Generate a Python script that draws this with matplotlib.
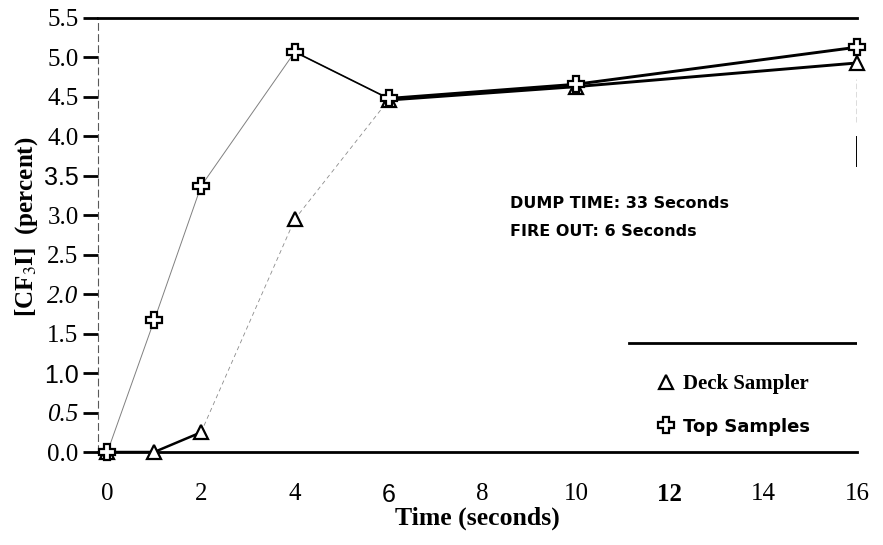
import matplotlib.pyplot as plt
import numpy as np

time_s = [0, 1, 2, 4, 6, 10, 16]
deck = [0.0, 0.0, 0.25, 2.95, 4.46, 4.63, 4.93]
top = [0.0, 1.67, 3.37, 5.07, 4.48, 4.66, 5.13]

yticks = np.arange(0, 5.51, 0.5)
xticks = np.arange(0, 17, 2)

plt.rcParams['font.family'] = ['Liberation Serif', 'DejaVu Serif']
plt.rcParams['mathtext.fontset'] = 'stix'

fig = plt.figure(figsize=(8.83, 5.45), dpi=100)
ax = fig.add_axes([0.111, 0.1706, 0.8596, 0.7964])

# faint early part of the traces, heavier once the readings settle
ax.plot(time_s, top, color='0.5', lw=0.7, zorder=2)
ax.plot(time_s, deck, color='0.55', lw=0.6, ls=(0, (5, 4)), zorder=2)
ax.plot(time_s[3:5], top[3:5], color='black', lw=1.2, zorder=3)
ax.plot(time_s[4:], top[4:], color='black', lw=2.1, zorder=3)
ax.plot(time_s[4:], deck[4:], color='black', lw=2.1, zorder=3)
ax.plot(time_s[:3], deck[:3], color='black', lw=1.8, zorder=3)

ax.plot(time_s, deck, ls='none', marker='^', ms=10, mfc='white', mec='black',
        mew=1.6, clip_on=False, zorder=4, label='Deck Sampler')
ax.plot(time_s, top, ls='none', marker='P', ms=11, mfc='white', mec='black',
        mew=1.6, clip_on=False, zorder=5, label='Top Samples')

ax.set_xlim(-0.2, 16)
ax.set_ylim(0, 5.5)

ax.spines['right'].set_visible(False)
ax.spines['left'].set_linewidth(0.8)
ax.spines['left'].set_color('0.35')
ax.spines['left'].set_linestyle((0, (6, 4)))
ax.spines['top'].set_linewidth(2.0)
ax.spines['bottom'].set_linewidth(2.0)
ax.axvline(16, ymin=0.76, ymax=0.86, color='0.3', lw=1.0, ls=(0, (4, 2)))
ax.axvline(16, ymin=0.66, ymax=0.725, color='black', lw=1.4)

ax.set_yticks(yticks)
ax.set_yticklabels([f'{v:.1f}' for v in yticks])
ax.tick_params(axis='y', direction='out', length=11, width=2.0, pad=3,
               labelsize=18)
ax.set_xticks(xticks)
ax.set_xticklabels([str(v) for v in xticks])
ax.tick_params(axis='x', length=0, pad=22, labelsize=18)

for lab in ax.get_yticklabels():
    if lab.get_text() in ('0.5', '2.0'):
        lab.set_style('italic')
    if lab.get_text() in ('1.0', '3.5'):
        lab.set_family('Liberation Sans')
for lab in ax.get_xticklabels():
    if lab.get_text() == '6':
        lab.set_family('Liberation Sans')
    if lab.get_text() == '12':
        lab.set_weight('bold')

ax.set_xlabel('Time (seconds)', fontsize=18.5, fontweight='bold', labelpad=0)
ax.set_ylabel('[CF$_3$I]  (percent)', fontsize=18, fontweight='bold')
ax.yaxis.set_label_coords(-0.077, 0.52)

ax.text(8.6, 3.15, 'DUMP TIME: 33 Seconds', fontsize=11.5, fontweight='bold',
        family='DejaVu Sans', va='center')
ax.text(8.6, 2.79, 'FIRE OUT: 6 Seconds', fontsize=11.5, fontweight='bold',
        family='DejaVu Sans', va='center')

ax.axhline(1.38, xmin=0.70, xmax=1.0, color='black', lw=2.0)
leg = ax.legend(loc='upper left', bbox_to_anchor=(0.705, 0.222), frameon=False,
                handlelength=1.4, handletextpad=0.1, labelspacing=1.1,
                prop={'family': 'Liberation Serif', 'weight': 'bold',
                      'size': 15})
leg.get_texts()[1].set_family('DejaVu Sans')
leg.get_texts()[1].set_size(13)

fig.savefig('out.png', dpi=100)
